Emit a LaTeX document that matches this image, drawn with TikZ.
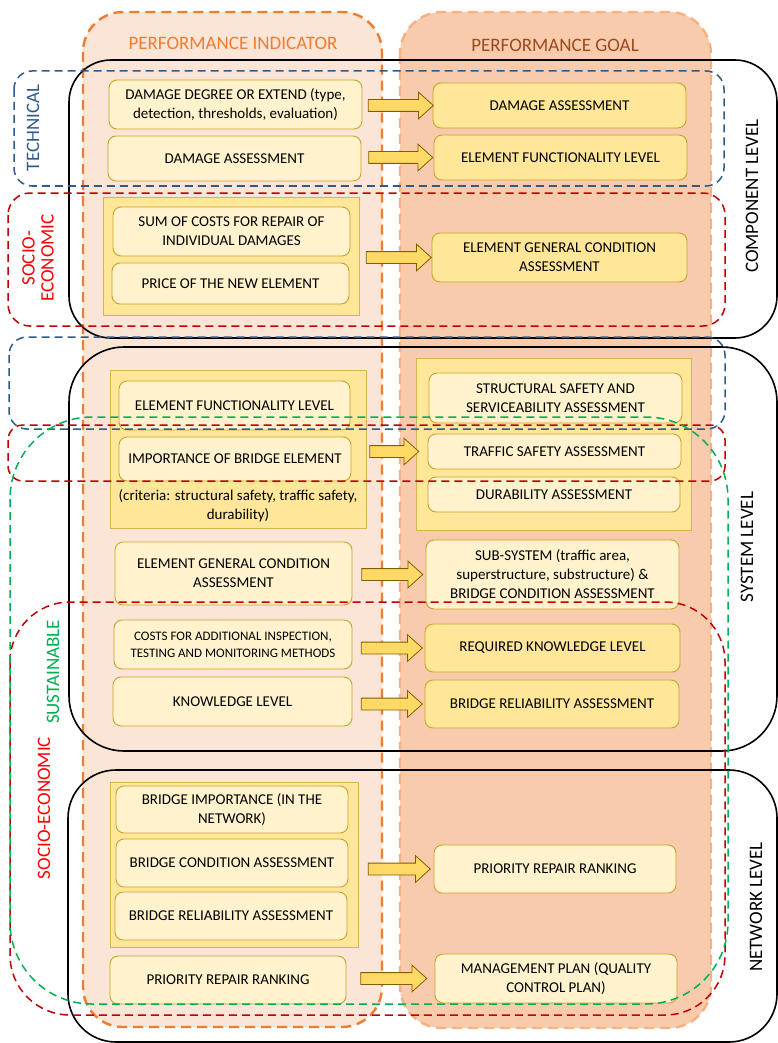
\documentclass[tikz,border=0pt]{standalone}
\usepackage{fontspec}
\setmainfont{Carlito}
\usetikzlibrary{shapes.arrows,calc}

\definecolor{indfill}{HTML}{FBE5D6}
\definecolor{indline}{HTML}{ED7D31}
\definecolor{goalfill}{HTML}{F8CBAD}
\definecolor{goalline}{HTML}{F4B183}
\definecolor{goaltext}{HTML}{9C4A1C}
\definecolor{lightbox}{HTML}{FFF2CC}
\definecolor{darkbox}{HTML}{FFE699}
\definecolor{boxline}{HTML}{C9A227}
\definecolor{arrowfill}{HTML}{FFD966}
\definecolor{arrowline}{HTML}{7F6000}
\definecolor{techblue}{HTML}{2E5C8A}
\definecolor{socred}{HTML}{C00000}
\definecolor{sustgreen}{HTML}{00B050}

\begin{document}
\begin{tikzpicture}[x=1pt, y=-1pt, font=\fontsize{15}{19}\selectfont,
  lbox/.style={draw=boxline, fill=lightbox, rounded corners=8pt, align=center, inner sep=1pt, line width=0.9pt},
  dbox/.style={lbox, fill=darkbox},
  grp/.style={draw=boxline!80, fill=darkbox, line width=0.9pt},
  lvl/.style={black, line width=1.6pt},
  framed/.style={line width=1.5pt, dash pattern=on 8pt off 5pt},
  vlabel/.style={rotate=90, align=center, font=\fontsize{19}{19}\selectfont},
  bigarrow/.style={single arrow, draw=arrowline, fill=arrowfill, line width=0.8pt, inner xsep=0pt, inner ysep=5.5pt,
    text height=0pt, text depth=0pt, single arrow head extend=7.5pt, single arrow tip angle=84}]
  \useasboundingbox (0,0) rectangle (778,1043);
  % ---- the two columns ----
  \draw[fill=indfill, draw=indline, line width=2.4pt, dash pattern=on 10pt off 6pt, rounded corners=40pt]
    (83,12) rectangle (382,1027);
  \draw[fill=goalfill, draw=goalline, line width=2.4pt, dash pattern=on 10pt off 6pt, rounded corners=42pt]
    (400,12) rectangle (711,1028);
  \node[text=indline, font=\fontsize{19}{19}\selectfont] (tind) at (233,43) {PERFORMANCE INDICATOR};
  \node[text=goaltext, font=\fontsize{19}{19}\selectfont] (tgoal) at (555,45) {PERFORMANCE GOAL};
  % ---- levels ----
  \draw[lvl, rounded corners=42pt] (69,60) rectangle (777,338);
  \draw[lvl, rounded corners=55pt] (69,347) rectangle (777,751);
  \draw[lvl, rounded corners=48pt] (68,770) rectangle (777,1042);
  % ---- component level ----
  \node[lbox, minimum width=253pt, minimum height=49pt] (i1) at (235.5,104.5) {DAMAGE DEGREE OR EXTEND (type,\\detection, thresholds, evaluation)};
  \node[lbox, minimum width=253pt, minimum height=45pt] (i2) at (234.5,158.5) {DAMAGE ASSESSMENT};
  \node[grp, minimum width=256pt, minimum height=118pt] (gc) at (231,256) {};
  \node[lbox, minimum width=237pt, minimum height=49pt] (i3) at (231.5,231.5) {SUM OF COSTS FOR REPAIR OF\\INDIVIDUAL DAMAGES};
  \node[lbox, minimum width=237pt, minimum height=41pt] (i4) at (230.5,283.5) {PRICE OF THE NEW ELEMENT};
  \node[dbox, minimum width=253pt, minimum height=45pt] (g1) at (559.5,105.5) {DAMAGE ASSESSMENT};
  \node[dbox, minimum width=253pt, minimum height=45pt] (g2) at (560.5,157.5) {ELEMENT FUNCTIONALITY LEVEL};
  \node[dbox, minimum width=255pt, minimum height=49pt] (g3) at (559.5,257.5) {ELEMENT GENERAL CONDITION\\ASSESSMENT};
  % ---- system level ----
  \node[grp, minimum width=256pt, minimum height=158pt] (gs) at (238,449) {};
  \node[lbox, minimum width=231pt, minimum height=49pt] (i5) at (234.5,405.5) {ELEMENT FUNCTIONALITY LEVEL};
  \node[lbox, minimum width=232pt, minimum height=44pt] (i6) at (235,459) {IMPORTANCE OF BRIDGE ELEMENT};
  \node[align=center, inner sep=0pt] (crit) at (238,506) {(criteria: structural safety, traffic safety,\\durability)};
  \node[lbox, minimum width=237pt, minimum height=63pt] (i7) at (233.5,573.5) {ELEMENT GENERAL CONDITION\\ASSESSMENT};
  \node[lbox, minimum width=238pt, minimum height=49pt, font=\fontsize{13}{17}\selectfont] (i8) at (233,644.5) {COSTS FOR ADDITIONAL INSPECTION,\\TESTING AND MONITORING METHODS};
  \node[lbox, minimum width=239pt, minimum height=49pt] (i9) at (232.5,701.5) {KNOWLEDGE LEVEL};
  \node[grp, minimum width=275pt, minimum height=172pt] (gg) at (553.5,444) {};
  \node[lbox, minimum width=253pt, minimum height=50pt] (g4) at (555.5,398) {STRUCTURAL SAFETY AND\\SERVICEABILITY ASSESSMENT};
  \node[lbox, minimum width=253pt, minimum height=35pt] (g5) at (554.5,451.5) {TRAFFIC SAFETY ASSESSMENT};
  \node[lbox, minimum width=252pt, minimum height=35pt] (g6) at (554,494.5) {DURABILITY ASSESSMENT};
  \node[lbox, minimum width=253pt, minimum height=69pt] (g7) at (552.5,574.5) {SUB-SYSTEM (traffic area,\\superstructure, substructure) \&\\BRIDGE CONDITION ASSESSMENT};
  \node[dbox, minimum width=255pt, minimum height=48pt] (g8) at (552.5,648) {REQUIRED KNOWLEDGE LEVEL};
  \node[dbox, minimum width=254pt, minimum height=48pt] (g9) at (552,704) {BRIDGE RELIABILITY ASSESSMENT};
  % ---- network level ----
  \node[grp, minimum width=248pt, minimum height=165pt] (gn) at (234,864.5) {};
  \node[lbox, minimum width=232pt, minimum height=47pt] (i10) at (232,809.5) {BRIDGE IMPORTANCE (IN THE\\NETWORK)};
  \node[lbox, minimum width=232pt, minimum height=48pt] (i11) at (232,863) {BRIDGE CONDITION ASSESSMENT};
  \node[lbox, minimum width=232pt, minimum height=48pt] (i12) at (231,916) {BRIDGE RELIABILITY ASSESSMENT};
  \node[lbox, minimum width=236pt, minimum height=48pt] (i13) at (228,980) {PRIORITY REPAIR RANKING};
  \node[lbox, minimum width=242pt, minimum height=48pt] (g10) at (555,869) {PRIORITY REPAIR RANKING};
  \node[lbox, minimum width=242pt, minimum height=49pt] (g11) at (556,978.5) {MANAGEMENT PLAN (QUALITY\\CONTROL PLAN)};
  % ---- indicator -> goal ----
  \foreach \a/\b/\r/\len [count=\k] in {i1/g1/g1/65, i2/g2/g2/64, gc/g3/g3/65, gs/gg/g5/49, i7/g7/g7/61,
                                        i8/g8/g8/61, i9/g9/g9/61, gn/g10/g10/62, i13/g11/g11/66} {
    \path let \p1=(\a.east), \p2=(\b.west), \p3=(\r.center) in
      node[bigarrow, minimum height=\len pt] (arr\k) at ({0.5*\x1+0.5*\x2}, \y3) {};
  }
  % ---- criteria frames ----
  \draw[framed, techblue, rounded corners=18pt] (14,71) rectangle (724,186);
  \draw[framed, techblue, rounded corners=18pt] (9,337) rectangle (725,429);
  \draw[framed, socred, rounded corners=22pt] (8,193) rectangle (725,326);
  \draw[framed, socred, rounded corners=15pt] (8,425) rectangle (725,481);
  \draw[framed, socred, rounded corners=60pt] (10,602) rectangle (725,1015);
  \draw[framed, sustgreen, rounded corners=82pt] (10,417) rectangle (728,1004);
  \node[vlabel, text=techblue] (ltech) at (33,128) {TECHNICAL};
  \node[vlabel, text=red] (lsoc1) at (38,258) {SOCIO-\\ECONOMIC};
  \node[vlabel, text=red] (lsoc2) at (44,808) {SOCIO-ECONOMIC};
  \node[vlabel, text=sustgreen] (lsust) at (53,672) {SUSTAINABLE};
  \node[vlabel] (lcomp) at (752,196) {COMPONENT LEVEL};
  \node[vlabel] (lsys) at (747,547) {SYSTEM LEVEL};
  \node[vlabel] (lnet) at (756,907) {NETWORK LEVEL};
\end{tikzpicture}
\end{document}
